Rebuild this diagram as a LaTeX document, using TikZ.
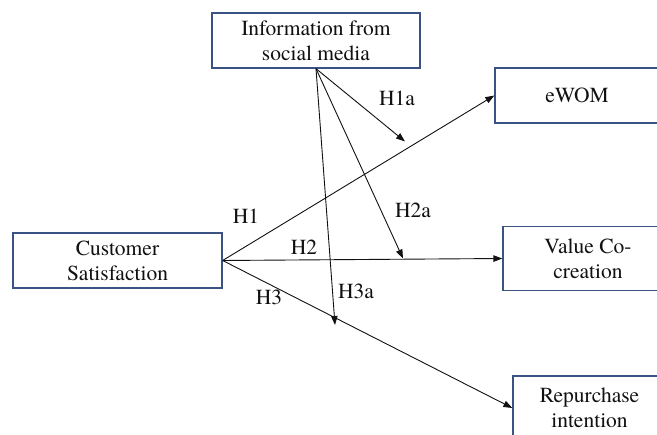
\documentclass[tikz,border=0pt]{standalone}
\usepackage{fontspec}
\newfontfamily\tnrfont{TeX Gyre Termes}
\usetikzlibrary{arrows.meta}
\definecolor{boxblue}{HTML}{3A5384}
\definecolor{inkc}{HTML}{111111}
\tikzset{
  box/.style={draw=boxblue, line width=1.3pt, fill=white, align=center, inner sep=0pt,
    font=\tnrfont\fontsize{21.5}{25}\selectfont, text=inkc},
  arr/.style={draw=inkc, line width=0.9pt, -{Triangle[length=9pt,width=6.5pt]}},
  lab/.style={font=\tnrfont\fontsize{21.5}{25}\selectfont, text=inkc, inner sep=0pt}
}
\begin{document}
\begin{tikzpicture}[x=1pt,y=-1pt]
\useasboundingbox (0,0) rectangle (657,435);
\node[box, minimum width=208pt, minimum height=55pt] (info) at (316,40.5) {Information from\\social media};
\node[box, minimum width=209pt, minimum height=55pt] (cs) at (117.5,260.5) {Customer\\Satisfaction};
\node[box, minimum width=164pt, minimum height=55pt] (ewom) at (577,95.5) {eWOM};
\node[box, minimum width=170pt, minimum height=64pt] (vc) at (588,258.5) {Value Co-\\creation};
\node[box, minimum width=153pt, minimum height=64pt] (rp) at (589.5,408) {Repurchase\\intention};

\coordinate (h1aend) at (405,141.5);
\coordinate (h2aend) at (403,258.5);
\coordinate (h3aend) at (335,325);

\draw[arr] (cs.east) -- (ewom.west);
\draw[arr] (cs.east) -- (vc.west);
\draw[arr] (cs.east) -- (rp.west);
\draw[arr] (info.south) -- (h1aend);
\draw[arr] (info.south) -- (h2aend);
\draw[arr] (info.south) -- (h3aend);

\node[lab] (lh1) at (246,216.5) {H1};
\node[lab] (lh2) at (304,247.5) {H2};
\node[lab] (lh3) at (269,297) {H3};
\node[lab] (lh1a) at (397,98.5) {H1a};
\node[lab] (lh2a) at (413,210.5) {H2a};
\node[lab] (lh3a) at (356,291) {H3a};
\end{tikzpicture}
\end{document}
